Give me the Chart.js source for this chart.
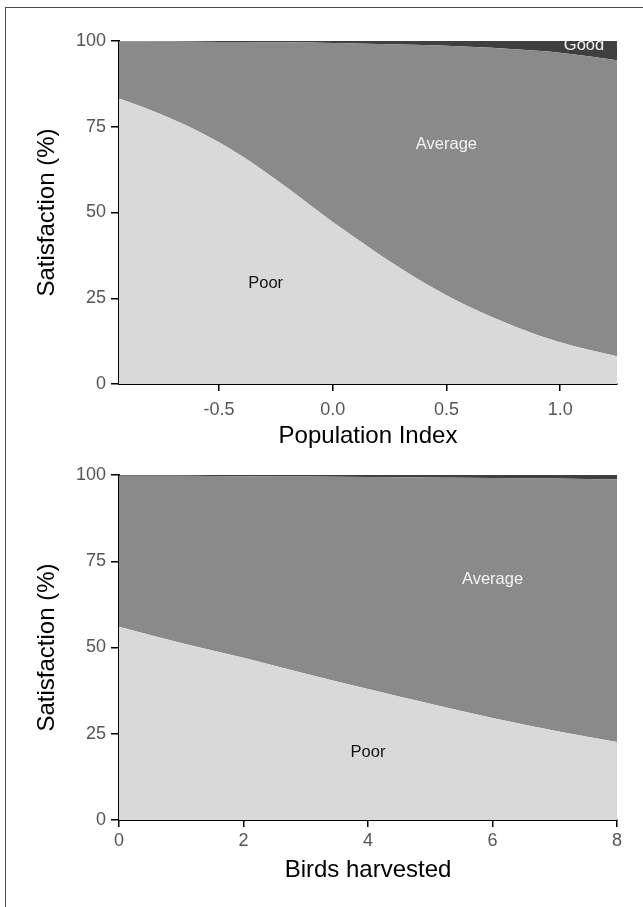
<!DOCTYPE html>
<html>
<head>
<meta charset="utf-8">
<script src="https://cdn.jsdelivr.net/npm/chart.js@4.4.1/dist/chart.umd.min.js"></script>
<style>
  html, body { margin: 0; padding: 0; background: #fff; width: 643px; height: 907px; overflow: hidden; }
  #frame { position: absolute; left: 5px; top: 7px; width: 700px; height: 1000px;
           border-top: 1px solid #4a4a4a; border-left: 1px solid #4a4a4a; }
  .panel { position: absolute; left: 0; width: 643px; }
  canvas { display: block; }
</style>
</head>
<body>
<div id="frame"></div>
<div class="panel" style="top:0"><canvas id="popChart" width="643" height="453"></canvas></div>
<div class="panel" style="top:453px"><canvas id="birdChart" width="643" height="454"></canvas></div>
<script>
// Predicted satisfaction shares (%) along the population index
const popIndex  = [-0.94, -0.8, -0.6, -0.4, -0.2, 0.0, 0.2, 0.4, 0.6, 0.8, 1.0, 1.25];
const poorByPop = [83.2, 79.8, 74.0, 66.5, 57.2, 47.2, 38.0, 29.6, 22.5, 16.8, 12.2, 8.1];
const goodByPop = [0.1, 0.15, 0.2, 0.3, 0.4, 0.6, 0.9, 1.2, 1.7, 2.4, 3.4, 5.6];
const popTicks  = [-0.5, 0.0, 0.5, 1.0];

// Predicted satisfaction shares (%) by number of birds harvested
const birdsHarvested = [0, 1, 2, 3, 4, 5, 6, 7, 8];
const poorByBirds    = [56.0, 51.3, 47.0, 42.4, 38.0, 33.7, 29.6, 25.9, 22.6];
const goodByBirds    = [0.2, 0.25, 0.35, 0.45, 0.55, 0.7, 0.85, 1.05, 1.3];
const birdTicks      = [0, 2, 4, 6, 8];

const satisfactionTicks = [0, 25, 50, 75, 100];

const FONT = '"Liberation Sans", Arial, Helvetica, sans-serif';
const COLORS = { poor: '#d9d9d9', average: '#8a8a8a', good: '#3f3f3f' };

// Writes the category names inside their bands, positioned in data units
const areaLabels = {
  id: 'areaLabels',
  afterDatasetsDraw(chart, args, opts) {
    const { ctx, chartArea, scales: { x, y } } = chart;
    ctx.save();
    ctx.beginPath();
    ctx.rect(chartArea.left, chartArea.top, chartArea.width, chartArea.height);
    ctx.clip();
    ctx.font = '16.5px ' + FONT;
    ctx.textAlign = 'center';
    ctx.textBaseline = 'middle';
    for (const it of opts.items) {
      ctx.fillStyle = it.color;
      ctx.fillText(it.text, x.getPixelForValue(it.x), y.getPixelForValue(it.y));
    }
    ctx.restore();
  }
};

function buildPanel(id, xs, poor, good, o) {
  const average = xs.map((_, i) => +(100 - poor[i] - good[i]).toFixed(2));
  const pts = arr => xs.map((x, i) => ({ x, y: arr[i] }));
  const tickGrid = len => ({ display: true, drawOnChartArea: false, drawTicks: true,
                             tickLength: len, color: '#000', lineWidth: 1.5 });
  return new Chart(document.getElementById(id), {
    type: 'line',
    data: {
      datasets: [
        { label: 'Poor',    data: pts(poor),    backgroundColor: COLORS.poor,    fill: 'origin' },
        { label: 'Average', data: pts(average), backgroundColor: COLORS.average, fill: '-1' },
        { label: 'Good',    data: pts(good),    backgroundColor: COLORS.good,    fill: '-1' }
      ]
    },
    options: {
      responsive: false,
      animation: false,
      events: [],
      layout: { padding: { top: o.padTop, right: 26, left: 0, bottom: 0 } },
      elements: {
        line: { borderWidth: 0, tension: 0.4, cubicInterpolationMode: 'monotone' },
        point: { radius: 0 }
      },
      plugins: {
        legend: { display: false },
        tooltip: { enabled: false },
        areaLabels: { items: o.labels }
      },
      scales: {
        x: {
          type: 'linear', min: o.xMin, max: o.xMax, z: 1,
          afterBuildTicks: s => { s.ticks = o.xTicks.map(v => ({ value: v })); },
          afterFit: s => { s.height = o.xAxisHeight; },
          ticks: { font: { size: 18, family: FONT }, color: '#555', padding: o.xTickPad,
                   maxRotation: 0, autoSkip: false, callback: o.xFormat },
          grid: tickGrid(7),
          border: { display: true, color: '#000', width: 2 },
          title: { display: true, text: o.xTitle, color: '#000',
                   font: { size: 24, family: FONT, lineHeight: 1 },
                   padding: { top: 0, bottom: o.xTitlePad } }
        },
        y: {
          stacked: true, min: 0, max: 100, z: 1,
          afterBuildTicks: s => { s.ticks = satisfactionTicks.map(v => ({ value: v })); },
          afterFit: s => { s.width = 119; },
          ticks: { font: { size: 18, family: FONT }, color: '#555', padding: 5 },
          grid: tickGrid(8),
          border: { display: true, color: '#000', width: 2 },
          title: { display: true, text: 'Satisfaction (%)', color: '#000',
                   font: { size: 24, family: FONT, lineHeight: 1 },
                   padding: { top: 35, bottom: 0 } }
        }
      }
    },
    plugins: [areaLabels]
  });
}

buildPanel('popChart', popIndex, poorByPop, goodByPop, {
  padTop: 41, xAxisHeight: 69, xTickPad: 8, xTitlePad: 5,
  xMin: -0.94, xMax: 1.25, xTicks: popTicks, xTitle: 'Population Index',
  xFormat: v => Number(v).toFixed(1),
  labels: [
    { text: 'Good',    x: 1.105, y: 98.6, color: '#f4f4f4' },
    { text: 'Average', x: 0.5,   y: 69.7, color: '#f4f4f4' },
    { text: 'Poor',    x: -0.295, y: 29.4, color: '#111' }
  ]
});

buildPanel('birdChart', birdsHarvested, poorByBirds, goodByBirds, {
  padTop: 22, xAxisHeight: 87, xTickPad: 3, xTitlePad: 25,
  xMin: 0, xMax: 8, xTicks: birdTicks, xTitle: 'Birds harvested',
  xFormat: v => String(v),
  labels: [
    { text: 'Average', x: 6.0, y: 69.6, color: '#f4f4f4' },
    { text: 'Poor',    x: 4.0, y: 19.7, color: '#111' }
  ]
});
</script>
</body>
</html>
